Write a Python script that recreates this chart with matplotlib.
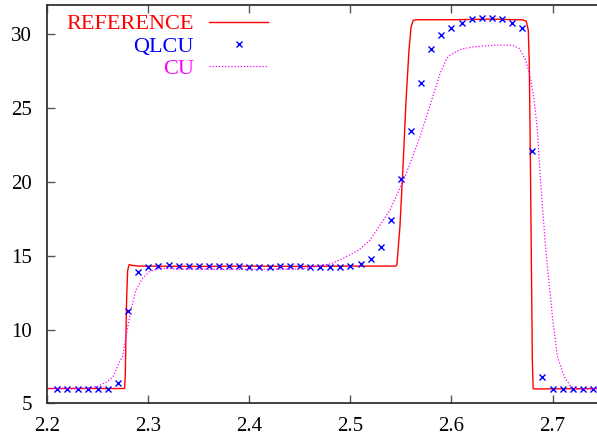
import numpy as np
import matplotlib
matplotlib.use("Agg")
import matplotlib.pyplot as plt

plt.rcParams['font.family'] = ['Liberation Serif', 'DejaVu Serif']

# reference solution
ref_x = [2.2, 2.2765, 2.2772, 2.2785, 2.2795, 2.281, 2.284, 2.29, 2.35, 2.40,
         2.45, 2.50, 2.545, 2.546, 2.549, 2.552, 2.555, 2.558, 2.560, 2.562,
         2.565, 2.60, 2.62, 2.64, 2.66, 2.670, 2.674, 2.676, 2.677, 2.678,
         2.679, 2.680, 2.6808, 2.682, 2.75]
ref_y = [6.0, 6.0, 7.0, 12.0, 14.0, 14.4, 14.35, 14.3, 14.28, 14.3,
         14.28, 14.3, 14.3, 14.4, 17.0, 21.0, 25.5, 29.0, 30.5, 30.95,
         31.0, 31.0, 31.02, 31.05, 31.0, 31.0, 30.9, 30.3, 28.0, 22.0,
         15.0, 8.0, 6.0, 5.97, 6.0]

# QLCU scheme, one value per cell
qlcu_x = [2.21, 2.22, 2.23, 2.24, 2.25, 2.26, 2.27, 2.28, 2.29, 2.30,
          2.31, 2.32, 2.33, 2.34, 2.35, 2.36, 2.37, 2.38, 2.39, 2.40,
          2.41, 2.42, 2.43, 2.44, 2.45, 2.46, 2.47, 2.48, 2.49, 2.50,
          2.51, 2.52, 2.53, 2.54, 2.55, 2.56, 2.57, 2.58, 2.59, 2.60,
          2.61, 2.62, 2.63, 2.64, 2.65, 2.66, 2.67, 2.68, 2.69, 2.70,
          2.71, 2.72, 2.73, 2.74]
qlcu_y = [6.0, 6.0, 6.0, 6.0, 6.0, 6.0, 6.35, 11.28, 13.87, 14.24,
          14.32, 14.37, 14.33, 14.3, 14.28, 14.3, 14.28, 14.3, 14.28, 14.27,
          14.25, 14.27, 14.28, 14.3, 14.28, 14.25, 14.24, 14.22, 14.25, 14.32,
          14.46, 14.78, 15.61, 17.44, 20.18, 23.47, 26.70, 29.05, 29.95, 30.43,
          30.75, 31.02, 31.13, 31.13, 31.06, 30.81, 30.45, 22.11, 6.80, 5.95,
          6.0, 6.0, 6.0, 6.0]

# CU scheme
cu_x = [2.20, 2.24, 2.25, 2.26, 2.265, 2.2715, 2.2745, 2.2778, 2.2827, 2.2877,
        2.2943, 2.301, 2.311, 2.33, 2.40, 2.45, 2.469, 2.48, 2.489, 2.5022,
        2.5088, 2.5194, 2.5392, 2.554, 2.5688, 2.5804, 2.5887, 2.5953, 2.5986, 2.6085,
        2.621, 2.644, 2.6605, 2.667, 2.6736, 2.6786, 2.6818, 2.685, 2.6883, 2.6933,
        2.6999, 2.7048, 2.7116, 2.7182, 2.7248, 2.75]
cu_y = [6.0, 6.02, 6.15, 6.5, 6.8, 7.8, 8.16, 9.51, 11.32, 12.68,
        13.47, 13.92, 14.15, 14.1, 14.08, 14.1, 14.3, 14.45, 14.7, 15.16,
        15.42, 16.06, 18.10, 20.35, 23.06, 25.55, 27.36, 28.37, 28.6, 28.98,
        29.16, 29.28, 29.28, 29.05, 28.26, 26.9, 25.55, 23.52, 19.9, 15.39,
        10.87, 8.16, 6.80, 6.12, 5.95, 6.0]

xticks = [2.2, 2.3, 2.4, 2.5, 2.6, 2.7]
yticks = [5, 10, 15, 20, 25, 30]

fig = plt.figure(figsize=(5.97, 4.42), dpi=100)
ax = fig.add_axes([0.0792, 0.0876, 0.9208, 0.9011])

ax.plot(ref_x, ref_y, color='#ff0000', lw=1.0, label='REFERENCE')
ax.plot(qlcu_x, qlcu_y, ls='none', marker='x', ms=4.5, mew=1.0,
        color='#0000ff', label='QLCU')
ax.plot(cu_x, cu_y, color='#ff00ff', lw=0.9, ls=(0, (1, 1.5)), label='CU')

ax.set_xlim(2.2, 2.744)
ax.set_ylim(5, 32)
ax.set_xticks(xticks)
ax.set_xticklabels([f'{t:.1f}' for t in xticks])
ax.set_yticks(yticks)

for s in ['left', 'bottom', 'top']:
    ax.spines[s].set_color('#333333')
    ax.spines[s].set_linewidth(1.3)
ax.spines['right'].set_visible(False)

ax.tick_params(direction='in', length=6, width=1.0, color='#555555',
               labelsize=15, top=True, right=False)
ax.tick_params(axis='x', pad=10)
ax.tick_params(axis='y', pad=11)

leg = ax.legend(loc='upper left', markerfirst=False, frameon=False,
                fontsize=16, handlelength=2.66, handletextpad=0.68,
                labelspacing=0.08, borderaxespad=0.0,
                bbox_to_anchor=(0.019, 1.0), numpoints=1)
for txt, line in zip(leg.get_texts(), leg.get_lines()):
    txt.set_color(line.get_color())

fig.savefig('out.png', dpi=100)
